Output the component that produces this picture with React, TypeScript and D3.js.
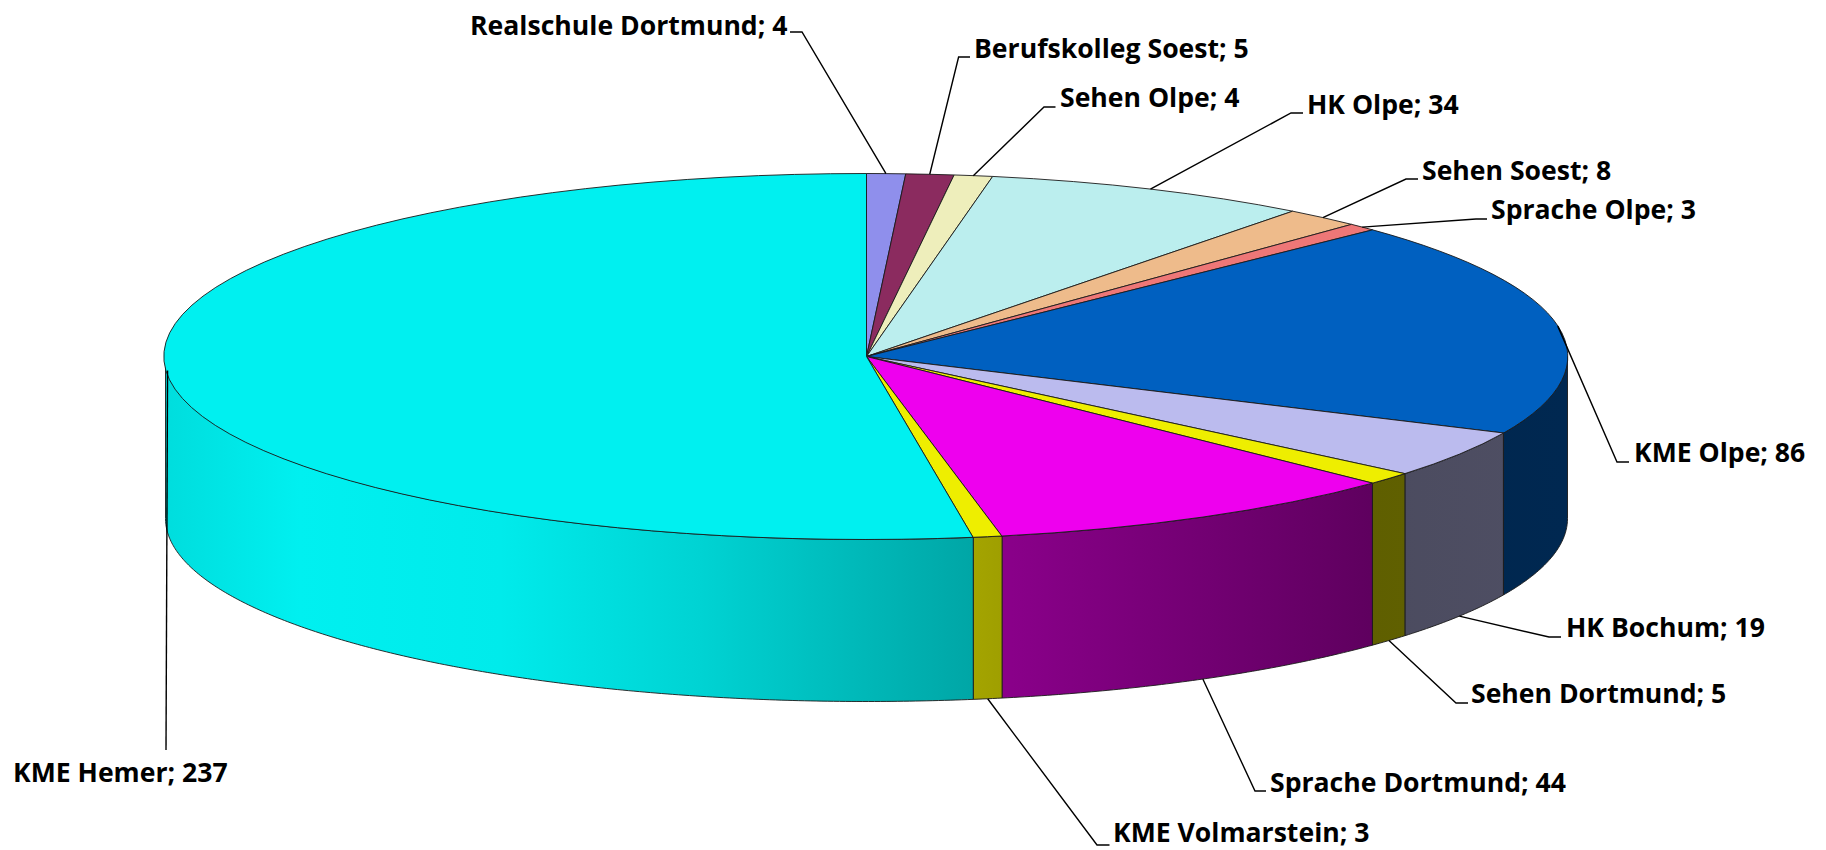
import React from "react";
import * as d3 from "d3";

const categories = ["Realschule Dortmund","Berufskolleg Soest","Sehen Olpe","HK Olpe","Sehen Soest","Sprache Olpe","KME Olpe","HK Bochum","Sehen Dortmund","Sprache Dortmund","KME Volmarstein","KME Hemer"];
const values = [4,5,4,34,8,3,86,19,5,44,3,237];
const colors = ["#8f8fec","#8b2b5f","#eeeebb","#bbeeee","#eebb8b","#ee7777","#0060c0","#bbbbee","#eeee00","#ee00ee","#eeee00","#00f0f0"];
const labelX = [470,974,1060,1307,1422,1491,1634,1566,1471,1270,1113,13];
const labelY = [25,48,97,104,170,209,452,627,693,782,832,772];
const elbowX = [802,958.6,1044,1291,1406,1476,1617,1549,1456,1255,1097,166];
const elbowY = [32,57,107,113,179,219,462,637,703,791,845,750];
const stubX = [790,970,1055.5,1303,1418,1487,1629,1561,1468,1266,1109.5,166];

const shadeX = [164,300,500,700,973,1002,1003,1370,1568];
const shadeK = [0.92,1,0.98,0.88,0.69,0.67,0.58,0.4,0.42];

const W = 1826, H = 850;
const cx = 866.5, cy = 356.5, rx = 701, ry = 183, depth = 162;

const arcs = d3.pie<number>().sort(null).startAngle(0).endAngle(2 * Math.PI)(values);
const rimX = (a: number) => cx + rx * Math.sin(a);
const rimY = (a: number) => cy - ry * Math.cos(a);
const arcGen = d3.arc<any>().innerRadius(0).outerRadius(1);
const line = d3.line<[number, number]>();

function wallPath(a0: number, a1: number) {
  const lo = Math.max(a0, Math.PI / 2), hi = Math.min(a1, 1.5 * Math.PI);
  if (hi <= lo) return null;
  const n = Math.max(2, Math.ceil((hi - lo) * 120));
  const as = d3.range(n + 1).map((i) => lo + ((hi - lo) * i) / n);
  const top = as.map((a) => [rimX(a), rimY(a)] as [number, number]);
  const bot = as.slice().reverse().map((a) => [rimX(a), rimY(a) + depth] as [number, number]);
  return { d: line([...top, ...bot])! + "Z", lo, hi };
}

export default function App() {
  const font = "'Open Sans', 'Noto Sans', sans-serif";
  return (
    <svg width={W} height={H} viewBox={`0 0 ${W} ${H}`} style={{ position: "absolute", left: 0, top: 0, display: "block", background: "#fff" }}>
      <defs>
        {arcs.map((s, i) => {
          const c = d3.rgb(colors[i]);
          return (
            <linearGradient key={i} id={`wall${i}`} gradientUnits="userSpaceOnUse" x1={164} x2={1568} y1={0} y2={0}>
              {shadeX.map((x, j) => (
                <stop key={j} offset={(x - 164) / (1568 - 164)} stopColor={d3.rgb(c.r * shadeK[j], c.g * shadeK[j], c.b * shadeK[j]).formatHex()} />
              ))}
            </linearGradient>
          );
        })}
      </defs>
      <g stroke="#1a1a1a" strokeWidth={0.9} strokeLinejoin="round">
        {arcs.map((s, i) => {
          const w = wallPath(s.startAngle, s.endAngle);
          return w ? <path key={i} d={w.d} fill={`url(#wall${i})`} /> : null;
        })}
        {arcs.map((s, i) => (
          <path
            key={i}
            d={arcGen(s)!}
            transform={`translate(${cx},${cy}) scale(${rx},${ry})`}
            fill={colors[i]}
            vectorEffect="non-scaling-stroke"
          />
        ))}
      </g>
      <g fill="none" stroke="#000" strokeWidth={1.4}>
        {arcs.map((s, i) => {
          const a = (s.startAngle + s.endAngle) / 2;
          const front = a > Math.PI / 2 && a < Math.PI * 1.25;
          const p: [number, number][] = [
            [rimX(a), rimY(a) + (front ? depth : 0)],
            [elbowX[i], elbowY[i]],
            [stubX[i], elbowY[i]],
          ];
          return <path key={i} d={line(p)!} />;
        })}
      </g>
      <g fontFamily={font} fontWeight={700} fontSize={26.6} fill="#000">
        {categories.map((c, i) => (
          <text key={i} x={labelX[i]} y={labelY[i]} dy="0.36em">{`${c}; ${values[i]}`}</text>
        ))}
      </g>
    </svg>
  );
}
